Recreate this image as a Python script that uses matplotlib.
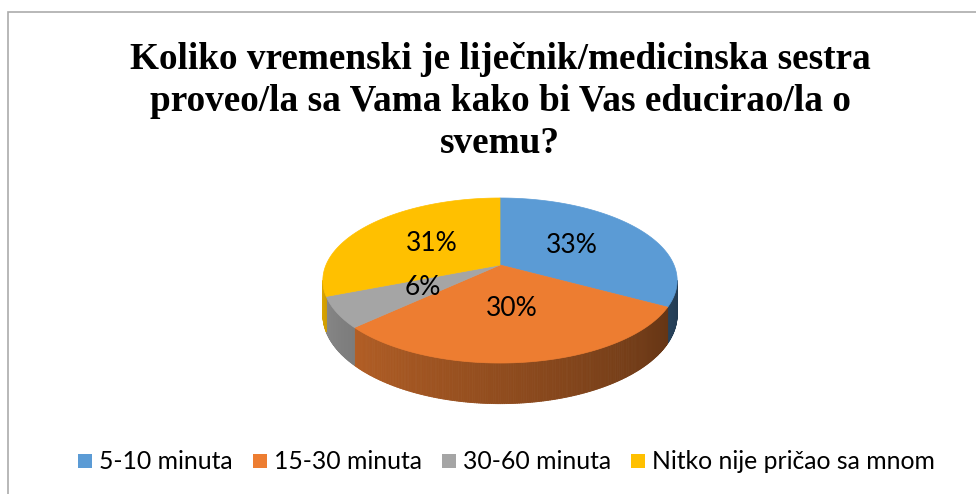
import numpy as np
import matplotlib
matplotlib.use('Agg')
import matplotlib.pyplot as plt
from matplotlib.patches import Polygon, Rectangle
from matplotlib.collections import PolyCollection
from matplotlib.colors import to_rgb

# ---- data ----
categories = ['5-10 minuta', '15-30 minuta', '30-60 minuta', 'Nitko nije pričao sa mnom']
values = [33, 30, 6, 31]
colors = ['#5B9BD5', '#ED7D31', '#A5A5A5', '#FFC000']
title_lines = ['Koliko vremenski je liječnik/medicinska sestra',
               'proveo/la sa Vama kako bi Vas educirao/la o',
               'svemu?']

# ---- figure ----
W, H = 976, 494
fig = plt.figure(figsize=(W / 100, H / 100), dpi=100)
ax = fig.add_axes([0, 0, 1, 1])
ax.set_xlim(0, W)
ax.set_ylim(H, 0)
ax.axis('off')

# chart frame (only top/left visible in reference)
ax.plot([7.5, 7.5, W + 5], [H + 5, 12.5, 12.5], color='#ababab', lw=1.2,
        clip_on=False, solid_joinstyle='miter')

# ---- 3D pie projection ----
CX, CY = 500, 265      # apex on screen
A, B = 174, 79.6       # horizontal / vertical radii scale
D = 5.32               # perspective distance
T = 33                 # thickness


def proj(r, th):
    t = np.radians(th)
    X = r * np.sin(t)
    Y = r * np.cos(t)
    k = D / (D + Y)
    return CX + A * X * k, CY - B * Y * k, k


total = float(sum(values))
bounds = np.concatenate([[0], np.cumsum(values) / total * 360.0])
sil = np.degrees(np.arccos(-1.0 / D))
lo, hi = sil, 360 - sil


def shade(th):
    f = 0.4 + (0.85 - 0.4) * (th - 110) / (260 - 110)
    return float(np.clip(f, 0.3, 0.9))


# sides
for i, c in enumerate(colors):
    a0, a1 = bounds[i], bounds[i + 1]
    s0, s1 = max(a0, lo), min(a1, hi)
    if s1 <= s0:
        continue
    n = max(2, int((s1 - s0) * 2) + 1)
    ths = np.linspace(s0, s1, n)
    polys, fcs = [], []
    base = np.array(to_rgb(c))
    for j in range(n - 1):
        xa, ya, ka = proj(1, ths[j])
        xb, yb, kb = proj(1, ths[j + 1])
        polys.append([(xa, ya), (xb, yb), (xb, yb + T * kb), (xa, ya + T * ka)])
        fcs.append(tuple(base * shade(0.5 * (ths[j] + ths[j + 1]))))
    pc = PolyCollection(polys, facecolors=fcs, edgecolors=fcs, linewidths=0.6, zorder=2)
    ax.add_collection(pc)

# top faces
for i, c in enumerate(colors):
    a0, a1 = bounds[i], bounds[i + 1]
    ths = np.linspace(a0, a1, max(3, int(a1 - a0) * 2))
    pts = [(CX, CY)] + [proj(1, t)[:2] for t in ths]
    ax.add_patch(Polygon(pts, closed=True, facecolor=c, edgecolor=c, lw=0.5, zorder=3))

# labels
for i, v in enumerate(values):
    mid = 0.5 * (bounds[i] + bounds[i + 1])
    x, y, _ = proj(0.5, mid)
    ax.text(x, y, f'{v / total * 100:.0f}%', ha='center', va='center',
            fontsize=19, family='Lato', color='#000000', zorder=5)

# title
for j, line in enumerate(title_lines):
    ax.text(500, 69 + 42 * j, line, ha='center', va='baseline',
            family='Liberation Serif', fontweight='bold', fontsize=26.8, color='#000000')

# legend
renderer = fig.canvas.get_renderer()
x = 78
for cat, c in zip(categories, colors):
    ax.add_patch(Rectangle((x, 454), 14, 14, facecolor=c, edgecolor='none'))
    t = ax.text(x + 21, 461, cat, ha='left', va='center', family='Lato',
                fontsize=17.8, color='#000000')
    w = t.get_window_extent(renderer).width
    x += 21 + w + 20

fig.savefig('out.png', dpi=100)
